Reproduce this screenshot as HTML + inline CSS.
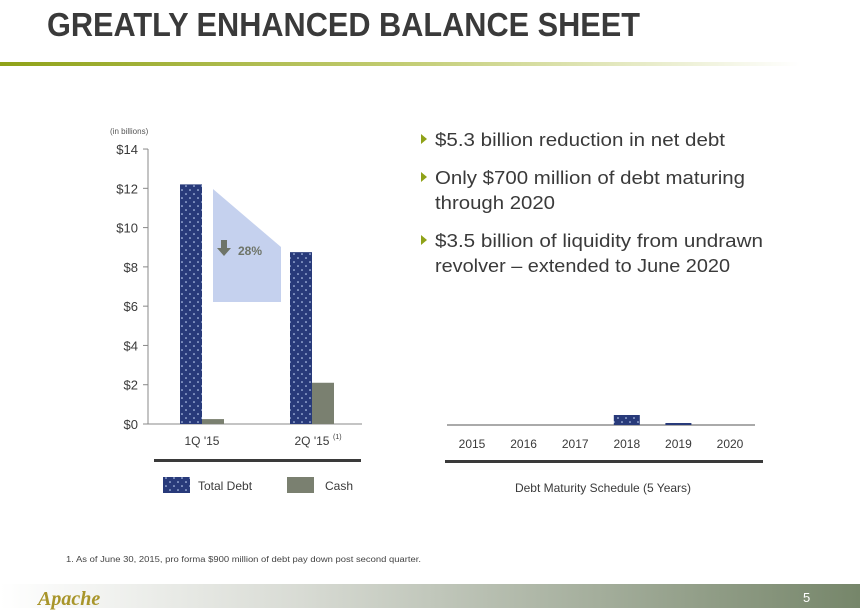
<!DOCTYPE html>
<html><head><meta charset="utf-8"><style>
html,body{margin:0;padding:0;background:#fff;}
svg{display:block;font-family:"Liberation Sans",sans-serif;}
</style></head><body>
<svg id="s" width="860" height="614" viewBox="0 0 860 614" xmlns="http://www.w3.org/2000/svg">
<defs>
<linearGradient id="gl" x1="0" x2="1"><stop offset="0" stop-color="#8fa218"/><stop offset="0.5" stop-color="#c2cc72"/><stop offset="1" stop-color="#fff"/></linearGradient>
<linearGradient id="gf" x1="0" x2="1"><stop offset="0" stop-color="#fff"/><stop offset="0.35" stop-color="#d8dbd4"/><stop offset="1" stop-color="#76866a"/></linearGradient>
<pattern id="dots" width="8" height="8" patternUnits="userSpaceOnUse"><rect width="8" height="8" fill="#283a7a"/><circle cx="2" cy="2" r="0.8" fill="#cfe0ff"/><circle cx="6" cy="6" r="0.8" fill="#cfe0ff"/></pattern>
</defs>
<text x="47" y="36" font-size="33" font-weight="bold" fill="#3a3a3a" textLength="593" lengthAdjust="spacingAndGlyphs">GREATLY ENHANCED BALANCE SHEET</text>
<rect x="0" y="62" width="800" height="4" fill="url(#gl)"/>

<g id="left"></g>
<g id="right"></g>

<g font-size="18" fill="#3a3a3a">
<path d="M421,134 l6,5 l-6,5z" fill="#8fa218"/>
<text x="435" y="146" textLength="290" lengthAdjust="spacingAndGlyphs">$5.3 billion reduction in net debt</text>
<path d="M421,172 l6,5 l-6,5z" fill="#8fa218"/>
<text x="435" y="184" textLength="310" lengthAdjust="spacingAndGlyphs">Only $700 million of debt maturing</text>
<text x="435" y="209" textLength="120" lengthAdjust="spacingAndGlyphs">through 2020</text>
<path d="M421,235 l6,5 l-6,5z" fill="#8fa218"/>
<text x="435" y="247" textLength="328" lengthAdjust="spacingAndGlyphs">$3.5 billion of liquidity from undrawn</text>
<text x="435" y="272" textLength="295" lengthAdjust="spacingAndGlyphs">revolver – extended to June 2020</text>
</g>

<text x="66" y="562" font-size="8" fill="#444" textLength="355" lengthAdjust="spacingAndGlyphs">1.    As of  June 30, 2015,  pro forma $900 million of debt pay down post second quarter.</text>
<rect x="0" y="584" width="860" height="24" fill="url(#gf)"/>
<text x="38" y="605" font-size="20" font-style="italic" font-weight="bold" fill="#a8952a" font-family="Liberation Serif,serif">Apache</text>
<text x="803" y="602" font-size="13" fill="#fff">5</text>
</svg>
<script>
const quarters = ["1Q '15", "2Q '15"];
const totalDebt = [12.2, 8.75];
const cash = [0.25, 2.1];
const yTicks = [0, 2, 4, 6, 8, 10, 12, 14];
const years = ["2015","2016","2017","2018","2019","2020"];
const maturities = [0, 0, 0, 0.5, 0.1, 0];

const NS = "http://www.w3.org/2000/svg";
function mk(parent, tag, attrs, text){const e=document.createElementNS(NS,tag);for(const k in attrs)e.setAttribute(k,attrs[k]);if(text!=null)e.textContent=text;parent.appendChild(e);return e;}
const L = document.getElementById('left');
const y = v => 424 - v * 19.64;
const xc = i => 202 + i * 110;

mk(L,'text',{x:110,y:134,'font-size':8,fill:'#555'},'(in billions)');
mk(L,'line',{x1:148,y1:149,x2:148,y2:424,stroke:'#888'});
mk(L,'line',{x1:148,y1:424,x2:362,y2:424,stroke:'#888'});
yTicks.forEach(t=>{
  mk(L,'line',{x1:143,y1:y(t),x2:148,y2:y(t),stroke:'#888'});
  const tx = mk(L,'text',{x:138,y:y(t)+5,'font-size':13,fill:'#3a3a3a','text-anchor':'end'},'$'+t);
  
  
});
mk(L,'path',{d:'M213,189 L281,247 L281,302 L213,302 Z',fill:'#c5d1ee'});
mk(L,'path',{d:'M221,240 h6 v8 h4 l-7,8 l-7,-8 h4z',fill:'#6e7468'});
mk(L,'text',{x:238,y:255,'font-size':12,'font-weight':'bold',fill:'#6e7468'},'28%');
quarters.forEach((q,i)=>{
  const b = mk(L,'rect',{x:xc(i)-22,y:y(totalDebt[i]),width:22,height:424-y(totalDebt[i]),fill:'url(#dots)'});
  
  
  const c = mk(L,'rect',{x:xc(i),y:y(cash[i]),width:22,height:424-y(cash[i]),fill:'#7a8070'});
  
  
  const t = mk(L,'text',{x:xc(i),y:445,'font-size':12,fill:'#3a3a3a','text-anchor':'middle'},q);
  
  
});
mk(L,'text',{x:333,y:439,'font-size':7,fill:'#3a3a3a'},'(1)');
mk(L,'rect',{x:154,y:459,width:207,height:3,fill:'#3a3a3a'});
mk(L,'rect',{x:163,y:477,width:27,height:16,fill:'url(#dots)'});
mk(L,'text',{x:198,y:490,'font-size':12,fill:'#3a3a3a'},'Total Debt');
mk(L,'rect',{x:287,y:477,width:27,height:16,fill:'#7a8070'});
mk(L,'text',{x:325,y:490,'font-size':12,fill:'#3a3a3a'},'Cash');

const R = document.getElementById('right');
const ry = v => 425 - v * 20;
const rx = i => 472 + i * 51.6;
mk(R,'line',{x1:447,y1:425,x2:755,y2:425,stroke:'#555'});
years.forEach((yr,i)=>{
  if(maturities[i]>0){
    const b = mk(R,'rect',{x:rx(i)-13,y:ry(maturities[i]),width:26,height:425-ry(maturities[i]),fill:'url(#dots)'});
    
    
  }
  const t = mk(R,'text',{x:rx(i),y:448,'font-size':12,fill:'#3a3a3a','text-anchor':'middle'},yr);
  
  
});
mk(R,'rect',{x:445,y:460,width:318,height:3,fill:'#3a3a3a'});
mk(R,'text',{x:603,y:492,'font-size':12,fill:'#3a3a3a','text-anchor':'middle'},'Debt Maturity Schedule (5 Years)');
</script>
</body></html>
